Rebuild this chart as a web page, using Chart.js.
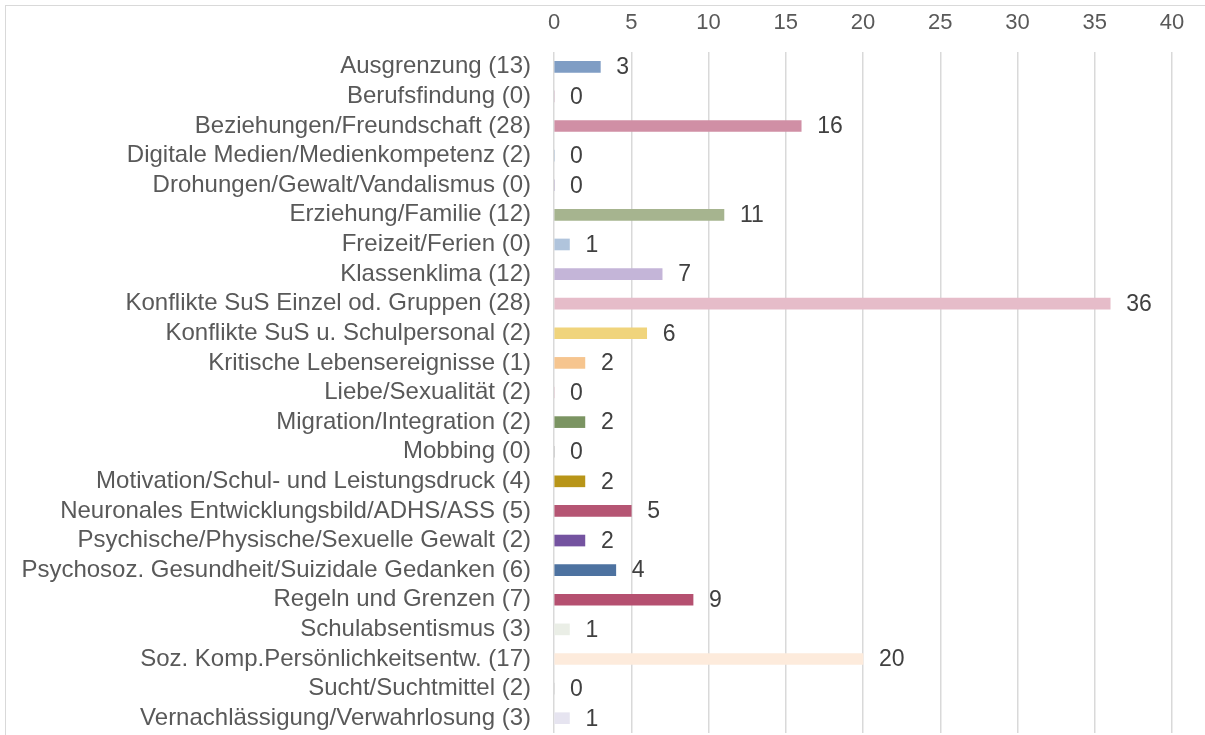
<!DOCTYPE html>
<html>
<head>
<meta charset="utf-8">
<script src="https://cdn.jsdelivr.net/npm/chart.js@4"></script>
<style>
  html, body { margin: 0; padding: 0; background: #fff; overflow: hidden; }
  #myChart { position: absolute; left: 0; top: 0; }
  #frame { position: absolute; left: 5px; top: 5px; width: 1220px; height: 760px; border: 1.5px solid #d9d9d9; }
</style>
</head>
<body>
<div id="frame"></div>
<canvas id="myChart" width="1205" height="735"></canvas>
<script>
const categories = [
    'Ausgrenzung (13)',
    'Berufsfindung (0)',
    'Beziehungen/Freundschaft (28)',
    'Digitale Medien/Medienkompetenz (2)',
    'Drohungen/Gewalt/Vandalismus (0)',
    'Erziehung/Familie (12)',
    'Freizeit/Ferien (0)',
    'Klassenklima (12)',
    'Konflikte SuS Einzel od. Gruppen (28)',
    'Konflikte SuS u. Schulpersonal (2)',
    'Kritische Lebensereignisse (1)',
    'Liebe/Sexualität (2)',
    'Migration/Integration (2)',
    'Mobbing (0)',
    'Motivation/Schul- und Leistungsdruck (4)',
    'Neuronales Entwicklungsbild/ADHS/ASS (5)',
    'Psychische/Physische/Sexuelle Gewalt (2)',
    'Psychosoz. Gesundheit/Suizidale Gedanken (6)',
    'Regeln und Grenzen (7)',
    'Schulabsentismus (3)',
    'Soz. Komp.Persönlichkeitsentw. (17)',
    'Sucht/Suchtmittel (2)',
    'Vernachlässigung/Verwahrlosung (3)'
];
const values = [3, 0, 16, 0, 0, 11, 1, 7, 36, 6, 2, 0, 2, 0, 2, 5, 2, 4, 9, 1, 20, 0, 1];
const barColors = [
    '#7f9dc4', '#c9a0b8', '#d08fa5', '#8aa8c8', '#9a8ab8',
    '#a6b48f', '#b0c4dc', '#c4b5d8', '#e6bcc9', '#f0d47c',
    '#f6c58f', '#d9b0c0', '#7b9462', '#a0a0a0', '#b89518',
    '#b55573', '#7453a0', '#4d72a0', '#b55070', '#eaeee6',
    '#fdebdc', '#c0c0c0', '#e6e4f0'
];
const xTicks = [0, 5, 10, 15, 20, 25, 30, 35, 40];

const FONT = "'Liberation Sans', Arial, sans-serif";

// Werte rechts neben die Balken schreiben
const valueLabels = {
    id: 'valueLabels',
    afterDatasetsDraw(chart) {
        const ctx = chart.ctx;
        const meta = chart.getDatasetMeta(0);
        ctx.save();
        ctx.font = '23px ' + FONT;
        ctx.fillStyle = '#404040';
        ctx.textAlign = 'left';
        ctx.textBaseline = 'middle';
        meta.data.forEach(function (bar, i) {
            ctx.fillText(String(values[i]), bar.x + 16, bar.y + 1);
        });
        ctx.restore();
    }
};

const ctx = document.getElementById('myChart').getContext('2d');
new Chart(ctx, {
    type: 'bar',
    data: {
        labels: categories,
        datasets: [{
            data: values,
            backgroundColor: barColors,
            barThickness: 11
        }]
    },
    options: {
        indexAxis: 'y',
        responsive: false,
        animation: false,
        layout: { padding: { left: 0, right: 33, top: 0, bottom: 2 } },
        plugins: {
            legend: { display: false },
            tooltip: { enabled: false }
        },
        scales: {
            x: {
                position: 'top',
                min: 0,
                max: 40,
                afterBuildTicks: function (scale) {
                    scale.ticks = xTicks.map(v => ({ value: v }));
                },
                afterFit: function (scale) { scale.height = 52; },
                grid: { color: '#d9d9d9', lineWidth: 1.5, drawTicks: false },
                border: { display: false },
                ticks: {
                    padding: 16,
                    color: '#595959',
                    font: { family: FONT, size: 22 }
                }
            },
            y: {
                afterFit: function (scale) {
                    scale.width = 554;
                    scale.paddingTop = 0;
                    scale.paddingBottom = 0;
                },
                grid: { display: false, drawTicks: false },
                border: { display: false },
                ticks: {
                    padding: 23,
                    autoSkip: false,
                    color: '#595959',
                    font: { family: FONT, size: 24 }
                }
            }
        }
    },
    plugins: [valueLabels]
});
</script>
</body>
</html>
